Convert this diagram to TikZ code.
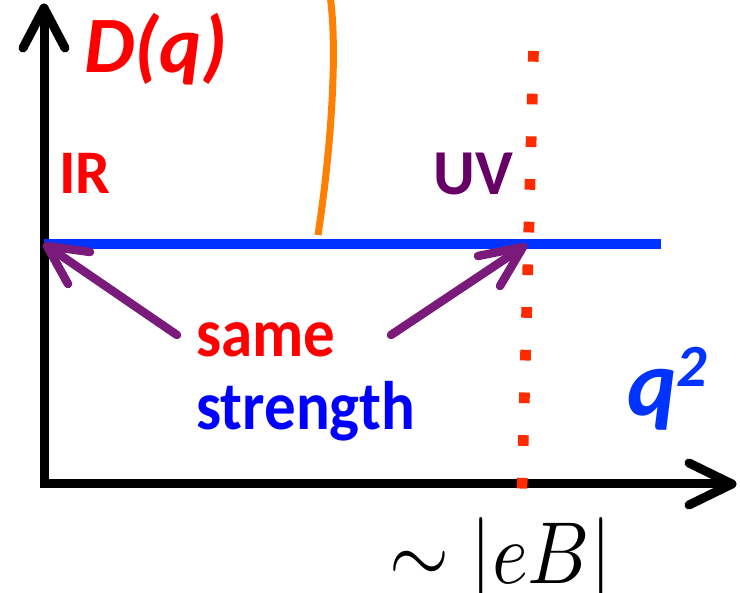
\documentclass[tikz,border=0pt]{standalone}
\usepackage{fontspec}
\usepackage{graphicx}
\setmainfont{Carlito}
\definecolor{txtred}{HTML}{FF0000}
\definecolor{txtblue}{HTML}{0000FF}
\definecolor{qblue}{HTML}{0033FF}
\definecolor{lineblue}{HTML}{0033FF}
\definecolor{uvpurple}{HTML}{660066}
\definecolor{arrpurple}{HTML}{7A1A7A}
\definecolor{orangec}{HTML}{FF8000}
\definecolor{dotred}{HTML}{FF2A00}
\newcommand\fsz[1]{\fontsize{#1}{#1}\selectfont}
\tikzset{
  axisline/.style={line width=4.5pt, draw=black},
  barb/.style={line cap=round, line join=round},
  lbl/.style={inner sep=0pt, anchor=base west},
  parrow/.style={line width=4.25pt, draw=arrpurple, line cap=round, line join=round},
  blueline/.style={line width=5pt, draw=lineblue},
  orangeline/.style={line width=3.5pt, draw=orangec},
  dotline/.style={line width=5.35pt, draw=dotred, dash pattern=on 5.35pt off 16pt},
}
\begin{document}
\begin{tikzpicture}[x=0.5pt,y=-0.5pt]
\useasboundingbox (0,0) rectangle (740,593);
\clip (0,0) rectangle (740,593);
% axes
\coordinate (O) at (44,484);
\coordinate (ytip) at (44,8);
\coordinate (xtip) at (732,484);
\coordinate (ya1) at (23,48);
\coordinate (ya2) at (65,48);
\coordinate (xa1) at (689,463);
\coordinate (xa2) at (689,505);
\draw[axisline] (ytip) -- (O) -- (xtip);
\draw[axisline, barb] (ya1) -- (ytip) -- (ya2);
\draw[axisline, barb] (xa1) -- (xtip) -- (xa2);
% blue level line
\coordinate (bl) at (44,244);
\coordinate (br) at (661,244);
\draw[blueline] (bl) -- (br);
% orange curve
\coordinate (oa) at (318,235);
\coordinate (ob) at (330,-5);
\draw[orangeline] (oa) .. controls (331,150) and (338,50) .. (ob);
% purple arrows
\coordinate (lt) at (177,335);
\coordinate (ltip) at (47,246);
\coordinate (la1) at (90,252);
\coordinate (la2) at (68,284);
\draw[parrow] (lt) -- (ltip);
\draw[parrow] (la1) -- (ltip) -- (la2);
\coordinate (rt) at (391,335);
\coordinate (rtip) at (523,247);
\coordinate (ra1) at (478,256);
\coordinate (ra2) at (500,286);
\draw[parrow] (rt) -- (rtip);
\draw[parrow] (ra1) -- (rtip) -- (ra2);
% dotted line
\coordinate (dt) at (533.5,51);
\coordinate (db) at (522,489);
\draw[dotline] (dt) -- (db);
% labels
\node[lbl, font=\fsz{40}\bfseries\itshape, text=txtred] (D) at (84,73) {D(q)};
\node[lbl, font=\fsz{31}\bfseries, text=txtred] (IR) at (59,194) {IR};
\node[lbl, font=\fsz{32}\bfseries, text=uvpurple] (UV) at (433,195) {UV};
\node[lbl, font=\fsz{31.5}\bfseries, text=txtred] (same) at (196,357) {\scalebox{1}[1.09]{same}};
\node[lbl, font=\fsz{31.5}\bfseries, text=txtblue] (strength) at (196,430) {\scalebox{1}[1.09]{strength}};
\node[lbl, font=\fsz{47}\bfseries\itshape, text=qblue] (q2) at (627,416) {q\kern-0.5pt\raisebox{14.5pt}{\fsz{30}2}};
\node[lbl, font=\fsz{10}, text=black] (eB) at (389,583) {\scalebox{3.85}[4.4]{$\sim|eB|$}};
\end{tikzpicture}
\end{document}
